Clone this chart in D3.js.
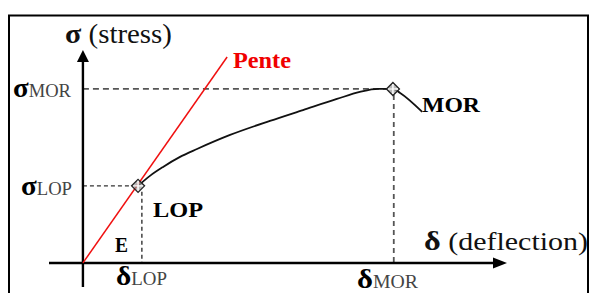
<!DOCTYPE html>
<html>
<head>
<meta charset="utf-8">
<script src="https://cdn.jsdelivr.net/npm/d3@7"></script>
<style>
    body { margin: 0; background: #fff; }
</style>
</head>
<body>
<svg id="chart" width="589" height="293"></svg>
<script>
// load-deflection curve (arbitrary units)
var deflection = [1.30, 1.58, 1.89, 2.29, 2.69, 3.47, 4.41, 5.19, 5.99, 6.53, 6.96, 7.31, 7.48, 8.00];
var stress = [3.62, 4.09, 4.51, 4.98, 5.35, 6.01, 6.67, 7.18, 7.70, 8.03, 8.17, 8.17, 7.98, 7.09];

// elastic slope (Pente)
var penteX = [0, 3.40];
var penteY = [0, 9.67];

// key points
var lopPoint = { x: 1.30, y: 3.62 };
var morPoint = { x: 7.31, y: 8.17 };
var deltaTicks = [1.39, 7.33];   // δLOP, δMOR
var sigmaTicks = [3.62, 8.17];   // σLOP, σMOR

var FONT = "Liberation Serif";

var svg = d3.select("#chart");

var x = d3.scaleLinear().domain([-0.8, 10]).range([49, 507]);
var y = d3.scaleLinear().domain([-1.13, 10]).range([287, 50]);

function drawFrame() {
    svg.append("rect")
        .attr("x", 9).attr("y", 15.5)
        .attr("width", 579).attr("height", 300)
        .attr("fill", "none")
        .attr("stroke", "#000")
        .attr("stroke-width", 2);
}

function drawAxes() {
    var x0 = x(0), y0 = y(0);
    var xd = x.domain(), yd = y.domain();

    svg.append("line")
        .attr("x1", x(xd[0])).attr("y1", y0)
        .attr("x2", x(xd[1]) - 6).attr("y2", y0)
        .attr("stroke", "#000").attr("stroke-width", 2.4);
    svg.append("path")
        .attr("d", "M" + x(xd[1]) + "," + y0 + "L" + (x(xd[1]) - 14) + "," + (y0 - 5.5) + "L" + (x(xd[1]) - 14) + "," + (y0 + 5.5) + "Z")
        .attr("fill", "#000");

    svg.append("line")
        .attr("x1", x0).attr("y1", y(yd[0]))
        .attr("x2", x0).attr("y2", y(yd[1]) + 6)
        .attr("stroke", "#000").attr("stroke-width", 2.4);
    svg.append("path")
        .attr("d", "M" + x0 + "," + y(yd[1]) + "L" + (x0 - 6) + "," + (y(yd[1]) + 12) + "L" + (x0 + 6) + "," + (y(yd[1]) + 12) + "Z")
        .attr("fill", "#000");
}

function drawGuides() {
    // σMOR / δMOR
    svg.append("line")
        .attr("x1", x(0)).attr("y1", y(sigmaTicks[1]))
        .attr("x2", x(morPoint.x)).attr("y2", y(sigmaTicks[1]))
        .attr("stroke", "#555").attr("stroke-width", 1.8)
        .attr("stroke-dasharray", "6,4");
    svg.append("line")
        .attr("x1", x(deltaTicks[1])).attr("y1", y(morPoint.y) + 6)
        .attr("x2", x(deltaTicks[1])).attr("y2", y(0))
        .attr("stroke", "#555").attr("stroke-width", 1.8)
        .attr("stroke-dasharray", "5,4");

    // σLOP / δLOP
    svg.append("line")
        .attr("x1", x(0)).attr("y1", y(sigmaTicks[0]))
        .attr("x2", x(lopPoint.x)).attr("y2", y(sigmaTicks[0]))
        .attr("stroke", "#333").attr("stroke-width", 1.4)
        .attr("stroke-dasharray", "4,3");
    svg.append("line")
        .attr("x1", x(deltaTicks[0])).attr("y1", y(lopPoint.y) + 6)
        .attr("x2", x(deltaTicks[0])).attr("y2", y(0))
        .attr("stroke", "#333").attr("stroke-width", 1.4)
        .attr("stroke-dasharray", "4,3");
}

function drawCurves() {
    var pts = deflection.map(function (d, i) { return [d, stress[i]]; });
    var line = d3.line()
        .x(function (d) { return x(d[0]); })
        .y(function (d) { return y(d[1]); })
        .curve(d3.curveMonotoneX);

    svg.append("path")
        .datum(pts)
        .attr("d", line)
        .attr("fill", "none")
        .attr("stroke", "#111")
        .attr("stroke-width", 1.8);

    svg.append("path")
        .datum(penteX.map(function (d, i) { return [d, penteY[i]]; }))
        .attr("d", d3.line().x(function (d) { return x(d[0]); }).y(function (d) { return y(d[1]); }))
        .attr("fill", "none")
        .attr("stroke", "#f01010")
        .attr("stroke-width", 1.5);
}

function drawMarker(p) {
    var cx = x(p.x), cy = y(p.y), r = 6.5;
    svg.append("path")
        .attr("d", "M" + cx + "," + (cy - r) + "L" + (cx + r) + "," + cy + "L" + cx + "," + (cy + r) + "L" + (cx - r) + "," + cy + "Z")
        .attr("fill", "#999").attr("fill-opacity", 0.7)
        .attr("stroke", "#222").attr("stroke-width", 1.3);
    svg.append("path")
        .attr("d", "M" + (cx - r + 1.5) + "," + cy + "H" + (cx + r - 1.5) + "M" + cx + "," + (cy - r + 1.5) + "V" + (cy + r - 1.5))
        .attr("stroke", "#fff").attr("stroke-width", 1.4);
}

function label(xp, yp, len, parts, color) {
    var t = svg.append("text")
        .attr("x", xp).attr("y", yp)
        .attr("font-family", FONT)
        .attr("textLength", len)
        .attr("lengthAdjust", "spacingAndGlyphs")
        .attr("fill", color || "#000");
    parts.forEach(function (p) {
        t.append("tspan")
            .attr("font-size", p.size)
            .attr("font-weight", p.bold ? "bold" : "normal")
            .attr("fill", p.color || null)
            .text(p.text);
    });
    return t;
}

function drawLabels() {
    label(65, 43, 107, [{ text: "σ", size: 28, bold: true }, { text: " (stress)", size: 27 }], "#111");
    label(424, 250, 164, [{ text: "δ", size: 28, bold: true }, { text: " (deflection)", size: 26 }], "#111");
    label(233, 68, 58, [{ text: "Pente", size: 24, bold: true }], "#f00000");
    label(422, 112, 58, [{ text: "MOR", size: 22, bold: true }]);
    label(153, 217, 50, [{ text: "LOP", size: 21, bold: true }]);
    label(115, 252, 13, [{ text: "E", size: 22, bold: true }]);

    label(13, 97, 58, [{ text: "σ", size: 28, bold: true }, { text: "MOR", size: 18, color: "#444" }]);
    label(21, 195, 51, [{ text: "σ", size: 28, bold: true }, { text: "LOP", size: 18, color: "#444" }]);
    label(116, 285, 51, [{ text: "δ", size: 28, bold: true }, { text: "LOP", size: 18, color: "#444" }]);
    label(357, 288, 61, [{ text: "δ", size: 28, bold: true }, { text: "MOR", size: 18, color: "#444" }]);
}

drawFrame();
drawGuides();
drawAxes();
drawCurves();
drawMarker(lopPoint);
drawMarker(morPoint);
drawLabels();
</script>
</body>
</html>
